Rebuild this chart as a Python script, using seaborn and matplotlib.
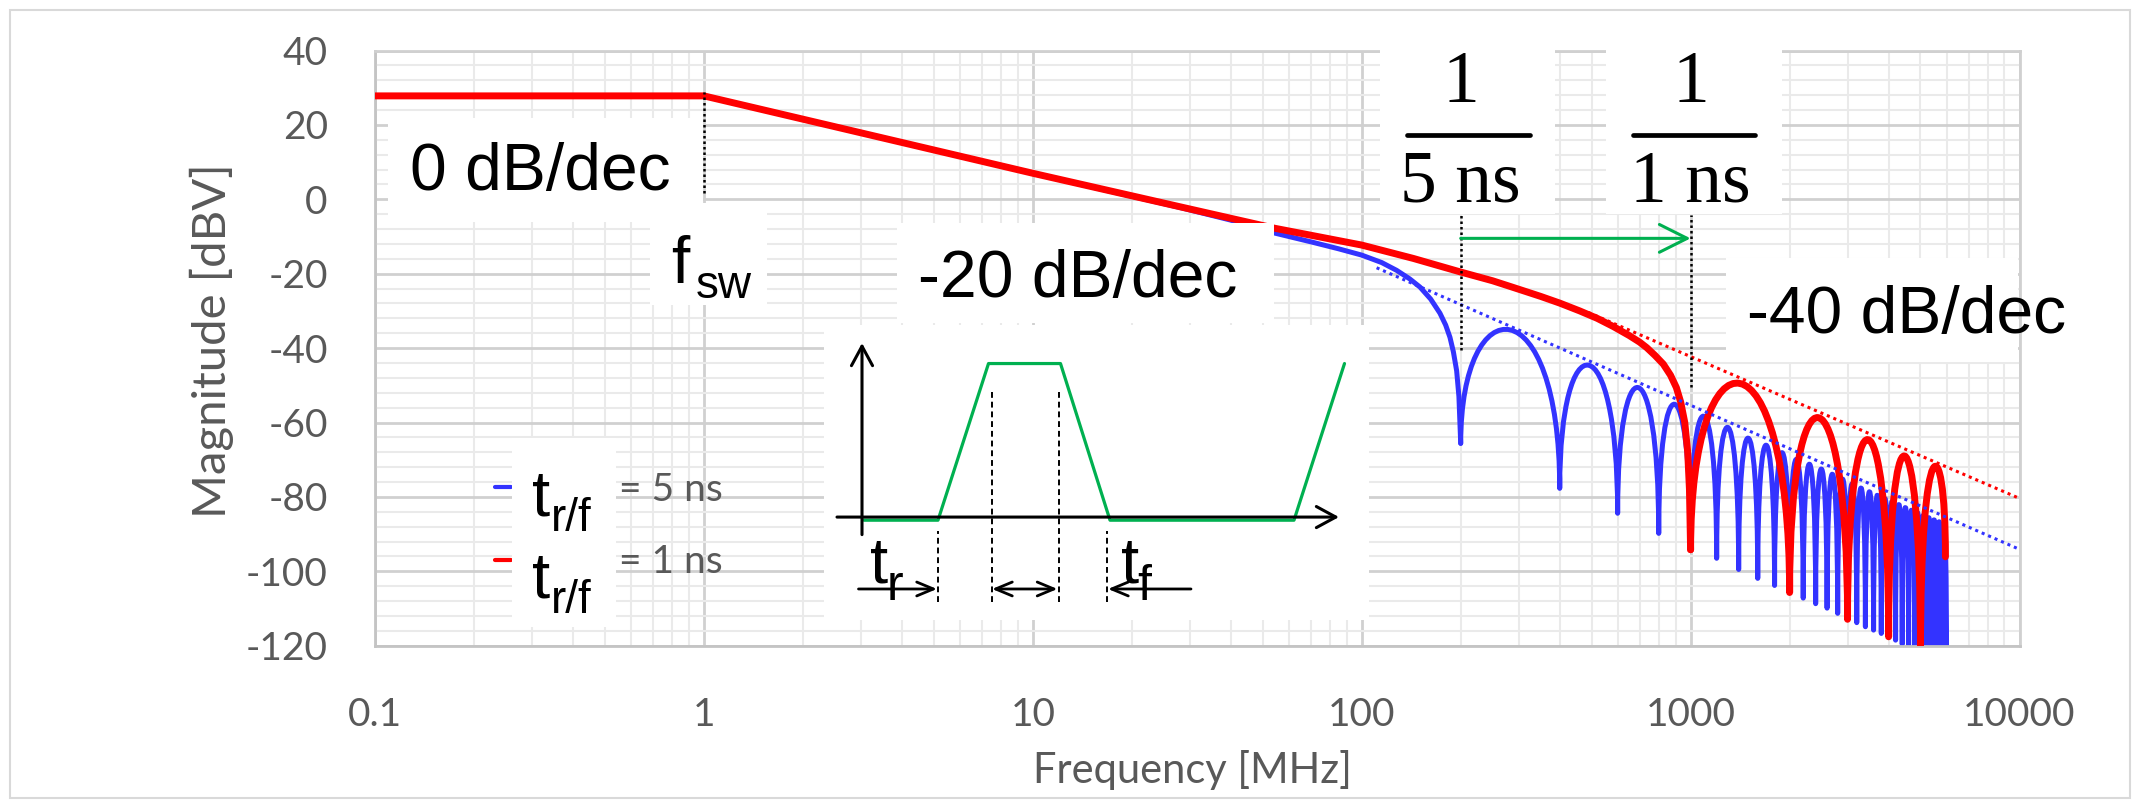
import matplotlib
matplotlib.use("Agg")
import matplotlib.pyplot as plt
import matplotlib.transforms as mtransforms
from matplotlib.path import Path
from matplotlib.patches import PathPatch, Rectangle
from matplotlib.lines import Line2D
from matplotlib.ticker import FixedLocator, FixedFormatter, LogLocator, MultipleLocator, NullFormatter
import pandas as pd
import seaborn as sns

# ---------------- values ----------------
FREQ_TICKS = [0.1, 1, 10, 100, 1000, 10000]
FREQ_TICK_LABELS = ["0.1", "1", "10", "100", "1000", "10000"]
MAG_TICKS = [-120, -100, -80, -60, -40, -20, 0, 20, 40]
MAG_TICK_LABELS = ["-120", "-100", "-80", "-60", "-40", "-20", "0", "20", "40"]

# smooth part of each spectrum (MHz, dBV)
BLUE_MAIN_F = [0.1, 1, 10, 28, 40, 54.5, 71.3, 85, 100, 115, 127.7, 140, 150.4, 162, 172.9, 180,
               185.5, 190, 194.4, 197.5, 200]
BLUE_MAIN_DB = [27.8, 27.8, 7.0, -2.2, -5.6, -9.1, -11.6, -13.3, -15.0, -17.0, -19.1, -21.4, -23.6,
                -26.8, -30.6, -33.8, -37.1, -41.0, -46.1, -53.0, -65.6]
RED_MAIN_F = [0.1, 1, 10, 28, 54.5, 100, 143.6, 199, 250, 289, 350, 400, 460, 520, 582, 650, 700, 736,
              780, 826, 869, 905, 933, 960, 980, 992, 1000]
RED_MAIN_DB = [27.8, 27.8, 7.0, -2.0, -7.8, -12.3, -15.9, -19.5, -21.9, -23.7, -26.1, -27.9, -30.0,
               -32.0, -34.2, -36.6, -38.4, -39.9, -42.0, -44.3, -47.3, -50.6, -54.5, -60.0, -68.0,
               -78.0, -94.2]

# lobes: nulls (MHz, dBV) and the peak level of each lobe between two nulls
BLUE_NULL_F = [200, 400, 600, 800, 1000, 1200, 1400, 1600, 1800, 2000, 2200, 2400, 2600, 2800, 3000,
               3200, 3400, 3600, 3800, 4000, 4200, 4400, 4600, 4800, 5000, 5200, 5400, 5600, 5800, 6000]
BLUE_NULL_DB = [-65.6, -77.7, -84.4, -89.8, -93.8, -96.5, -99.5, -101.9, -103.8, -105.5, -107.2, -108.7,
                -109.9, -111.3, -112.9, -113.8, -114.9, -115.8, -116.7, -117.6, -118.5, -119.6, -120.5,
                -121.3, -122.0, -122.7, -123.4, -124.0, -124.6, -125.2]
BLUE_PEAK_DB = [-35.1, -44.6, -50.6, -55.1, -58.3, -61.3, -64.2, -66.1, -68.1, -69.9, -71.2, -72.5, -73.9,
                -75.2, -76.5, -77.6, -78.6, -79.5, -80.4, -81.2, -82.0, -82.8, -83.5, -84.2, -84.9, -85.5,
                -86.1, -86.6, -87.1]
RED_NULL_F = [1000, 2000, 3000, 4000, 5000, 5954]
RED_NULL_DB = [-94.2, -105.7, -112.9, -117.6, -122.0, -96.1]
RED_PEAK_DB = [-49.5, -58.7, -64.6, -69.0, -72.4]

# -40 dB/dec asymptotes
BLUE_ASYM_F = [111, 10000]
BLUE_ASYM_DB = [-18.4, -94.1]
RED_ASYM_F = [488, 10000]
RED_ASYM_DB = [-30.4, -80.4]

# dotted markers at f_sw, 1/5 ns, 1/1 ns
VLINE_F = [1, 200, 1000]
VLINE_TOP = [28.9, -4.2, -4.2]
VLINE_BOTTOM = [1.6, -40.5, -50.4]
ARROW_F = [200, 1000]
ARROW_DB = -10.5

LEGEND_LABELS = ["= 5 ns", "= 1 ns"]

# inset trapezoid schematic (time units, normalised level)
TRAP_T = [0.04, 1.52, 2.53, 3.97, 4.96, 8.64, 9.65]
TRAP_LEVEL = [0, 0, 1, 1, 0, 0, 1]
GUIDE_T = [1.52, 2.59, 3.93, 4.90]
GUIDE_TOP = [-0.08, 0.83, 0.83, -0.08]
GUIDE_BOTTOM = -0.53

# ---------------- style ----------------
sns.set_theme(style="white")
plt.rcParams["font.family"] = ["Lato", "DejaVu Sans"]
plt.rcParams["axes.unicode_minus"] = False
BLUE = "#3333FF"
RED = "#FF0000"
GREEN = "#00B050"
GREY = "#595959"
ANN = "Liberation Sans"

W, H = 2140, 808
fig = plt.figure(figsize=(W / 100, H / 100), dpi=100)
fig.patch.set_facecolor("white")
L, R, T, B = 375, 2019.5, 50.5, 645.7
ax = fig.add_axes([L / W, 1 - B / H, (R - L) / W, (B - T) / H])
px = mtransforms.Affine2D().scale(1 / W, -1 / H).translate(0, 1) + fig.transFigure

ax.set_xscale("log")
ax.set_xlim(0.1, 10000)
ax.set_ylim(-120, 40)
ax.xaxis.set_major_locator(FixedLocator(FREQ_TICKS))
ax.xaxis.set_major_formatter(FixedFormatter(FREQ_TICK_LABELS))
ax.xaxis.set_minor_locator(LogLocator(base=10, subs=range(2, 10)))
ax.xaxis.set_minor_formatter(NullFormatter())
ax.yaxis.set_major_locator(FixedLocator(MAG_TICKS))
ax.yaxis.set_major_formatter(FixedFormatter(MAG_TICK_LABELS))
ax.yaxis.set_minor_locator(MultipleLocator(4))
ax.grid(which="major", color="#D0D0D0", lw=2.0)
ax.grid(which="minor", color="#EAEAEA", lw=1.5)
ax.set_axisbelow(True)
for side, sp in ax.spines.items():
    sp.set_color("#C4C4C4" if side in ("left", "bottom") else "#D0D0D0")
    sp.set_linewidth(2.0)
ax.tick_params(axis="both", which="both", length=0, labelsize=28, labelcolor=GREY)
ax.tick_params(axis="y", pad=34)
ax.tick_params(axis="x", pad=37)

ax.set_xlabel("Frequency [MHz]", fontsize=30, color=GREY)
ax.set_ylabel("Magnitude [dBV]", fontsize=34, color=GREY)
ax.xaxis.label.set_verticalalignment("center")
ax.yaxis.label.set_verticalalignment("center")
ax.xaxis.set_label_coords(1192, 770, transform=px)
ax.yaxis.set_label_coords(212, 341, transform=px)

# ---------------- curves ----------------
def lobe_path(null_f, null_db, peak_db):
    verts = [(null_f[0], null_db[0])]
    codes = [Path.MOVETO]
    for k, p in enumerate(peak_db):
        f0, f1 = null_f[k], null_f[k + 1]
        d0, d1 = null_db[k], null_db[k + 1]
        h = (p - 0.125 * (d0 + d1)) / 0.75
        verts += [(f0, h), (f1, h), (f1, d1)]
        codes += [Path.CURVE4] * 3
    return Path(verts, codes)

blue_df = pd.DataFrame({"f": BLUE_MAIN_F, "db": BLUE_MAIN_DB})
red_df = pd.DataFrame({"f": RED_MAIN_F, "db": RED_MAIN_DB})
sns.lineplot(data=blue_df, x="f", y="db", ax=ax, color=BLUE, lw=3.6, sort=False, estimator=None,
             solid_capstyle="round", solid_joinstyle="round", zorder=2)
ax.add_patch(PathPatch(lobe_path(BLUE_NULL_F, BLUE_NULL_DB, BLUE_PEAK_DB), fill=False, edgecolor=BLUE,
                       lw=3.6, joinstyle="round", capstyle="round", zorder=2))
sns.lineplot(data=red_df, x="f", y="db", ax=ax, color=RED, lw=5.0, sort=False, estimator=None,
             solid_capstyle="round", solid_joinstyle="round", zorder=3)
ax.add_patch(PathPatch(lobe_path(RED_NULL_F, RED_NULL_DB, RED_PEAK_DB), fill=False, edgecolor=RED,
                       lw=5.0, joinstyle="round", capstyle="round", zorder=3))

sns.lineplot(x=BLUE_ASYM_F, y=BLUE_ASYM_DB, ax=ax, color=BLUE, lw=2.2, linestyle=(0, (1, 1.3)),
             sort=False, estimator=None, zorder=4)
sns.lineplot(x=RED_ASYM_F, y=RED_ASYM_DB, ax=ax, color=RED, lw=2.2, linestyle=(0, (1, 1.3)),
             sort=False, estimator=None, zorder=4)

ax.vlines(VLINE_F, VLINE_BOTTOM, VLINE_TOP, colors="black", linestyles=(0, (1, 1.2)), lw=1.8, zorder=4)
ax.annotate("", xy=(ARROW_F[1], ARROW_DB), xytext=(ARROW_F[0], ARROW_DB),
            arrowprops=dict(arrowstyle="->,head_length=1.0,head_width=0.5", color=GREEN, lw=2.2,
                            shrinkA=0, shrinkB=0, mutation_scale=20), zorder=4)

# ---------------- white label boxes ----------------
def white_box(x0, y0, x1, y1, z=5):
    ax.add_patch(Rectangle((x0, y0), x1 - x0, y1 - y0, transform=px, facecolor="white",
                           edgecolor="none", clip_on=False, zorder=z))

white_box(388, 118, 703, 222)
white_box(650, 203, 767, 305)
white_box(897, 223, 1274, 323)
white_box(1380, 47, 1555, 214)
white_box(1606, 47, 1782, 214)
white_box(1726, 258, 2018, 362)

def label(x, y, s, size, family=ANN, ha="left", trans=px, **kw):
    ax.text(x, y, s, transform=trans, fontsize=size, family=family, ha=ha, va="baseline",
            color="black", zorder=7, clip_on=False, **kw)

label(410, 190, "0 dB/dec", 47.5)
label(671, 283, "f", 47.5)
label(696, 298, "sw", 33)
label(918, 297, "-20 dB/dec", 47.5)
label(1747, 333, "-40 dB/dec", 47.5)

# fractions 1/(5 ns) and 1/(1 ns), centred on their frequencies
frac_t = mtransforms.blended_transform_factory(ax.transData, px)
for f_c, den in zip(VLINE_F[1:], ["5 ns", "1 ns"]):
    label(f_c, 102, "1", 53, family="Liberation Serif", ha="center", trans=frac_t)
    label(f_c, 202, den, 53, family="Liberation Serif", ha="center", trans=frac_t)
ax.add_line(Line2D([1407, 1530], [135, 135], transform=px, color="black", lw=3.4, clip_on=False, zorder=7))
ax.add_line(Line2D([1633, 1755], [135, 135], transform=px, color="black", lw=3.4, clip_on=False, zorder=7))

# ---------------- legend ----------------
handles = [Line2D([], [], color=BLUE, lw=3.0), Line2D([], [], color=RED, lw=3.0)]
leg = ax.legend(handles, LEGEND_LABELS, loc="center left", bbox_to_anchor=(495, 526), bbox_transform=px,
                frameon=False, fontsize=28, labelcolor=GREY, handlelength=0.4, handletextpad=2.8,
                labelspacing=0.95, borderpad=0, borderaxespad=0)
leg.set_zorder(5)
white_box(512, 438, 616, 627, z=6)
label(532, 515, "t", 47)
label(551, 531, "r/f", 33)
label(532, 597, "t", 47)
label(551, 613, "r/f", 33)

# ---------------- inset schematic ----------------
IX0, IY0, IX1, IY1 = 824, 325, 1369, 620
axi = fig.add_axes([IX0 / W, 1 - IY1 / H, (IX1 - IX0) / W, (IY1 - IY0) / H], zorder=5)
axi.set_facecolor("white")
axi.set_xlim(-0.76, 10.14)
axi.set_ylim(-0.645, 1.238)
axi.set_xticks([])
axi.set_yticks([])
axi.grid(False)
for sp in axi.spines.values():
    sp.set_visible(False)

sns.lineplot(x=TRAP_T, y=[v - 0.008 for v in TRAP_LEVEL], ax=axi, color=GREEN, lw=2.3, sort=False,
             estimator=None)
axi.vlines(GUIDE_T, GUIDE_BOTTOM, GUIDE_TOP, colors="black", linestyles=(0, (3, 2)), lw=1.4)
ax_arrow = dict(arrowstyle="->,head_length=0.7,head_width=0.38", lw=2.2, color="black",
                shrinkA=0, shrinkB=0, mutation_scale=20)
axi.annotate("", xy=(9.54, 0.012), xytext=(-0.5, 0.012), arrowprops=ax_arrow)
axi.annotate("", xy=(0, 1.123), xytext=(0, -0.10), arrowprops=ax_arrow)
small = dict(lw=2.0, color="black", shrinkA=0, shrinkB=0, mutation_scale=20)
axi.annotate("", xy=(1.50, -0.447), xytext=(-0.07, -0.447),
             arrowprops=dict(arrowstyle="->,head_length=0.6,head_width=0.25", **small))
axi.annotate("", xy=(3.91, -0.447), xytext=(2.60, -0.447),
             arrowprops=dict(arrowstyle="<->,head_length=0.6,head_width=0.25", **small))
axi.annotate("", xy=(4.92, -0.447), xytext=(6.58, -0.447),
             arrowprops=dict(arrowstyle="->,head_length=0.6,head_width=0.25", **small))
for tx, sub in [(0.16, "r"), (5.17, "f")]:
    axi.text(tx, -0.408, "t", fontsize=47, family=ANN, va="baseline", color="black")
    axi.text(tx + 0.33, -0.517, sub, fontsize=36, family=ANN, va="baseline", color="black")

# outer chart border
fig.add_artist(Rectangle((10, 10), 2120, 788, transform=px, facecolor="none", edgecolor="#D9D9D9", lw=1.5))

fig.savefig("out.png", dpi=100)
